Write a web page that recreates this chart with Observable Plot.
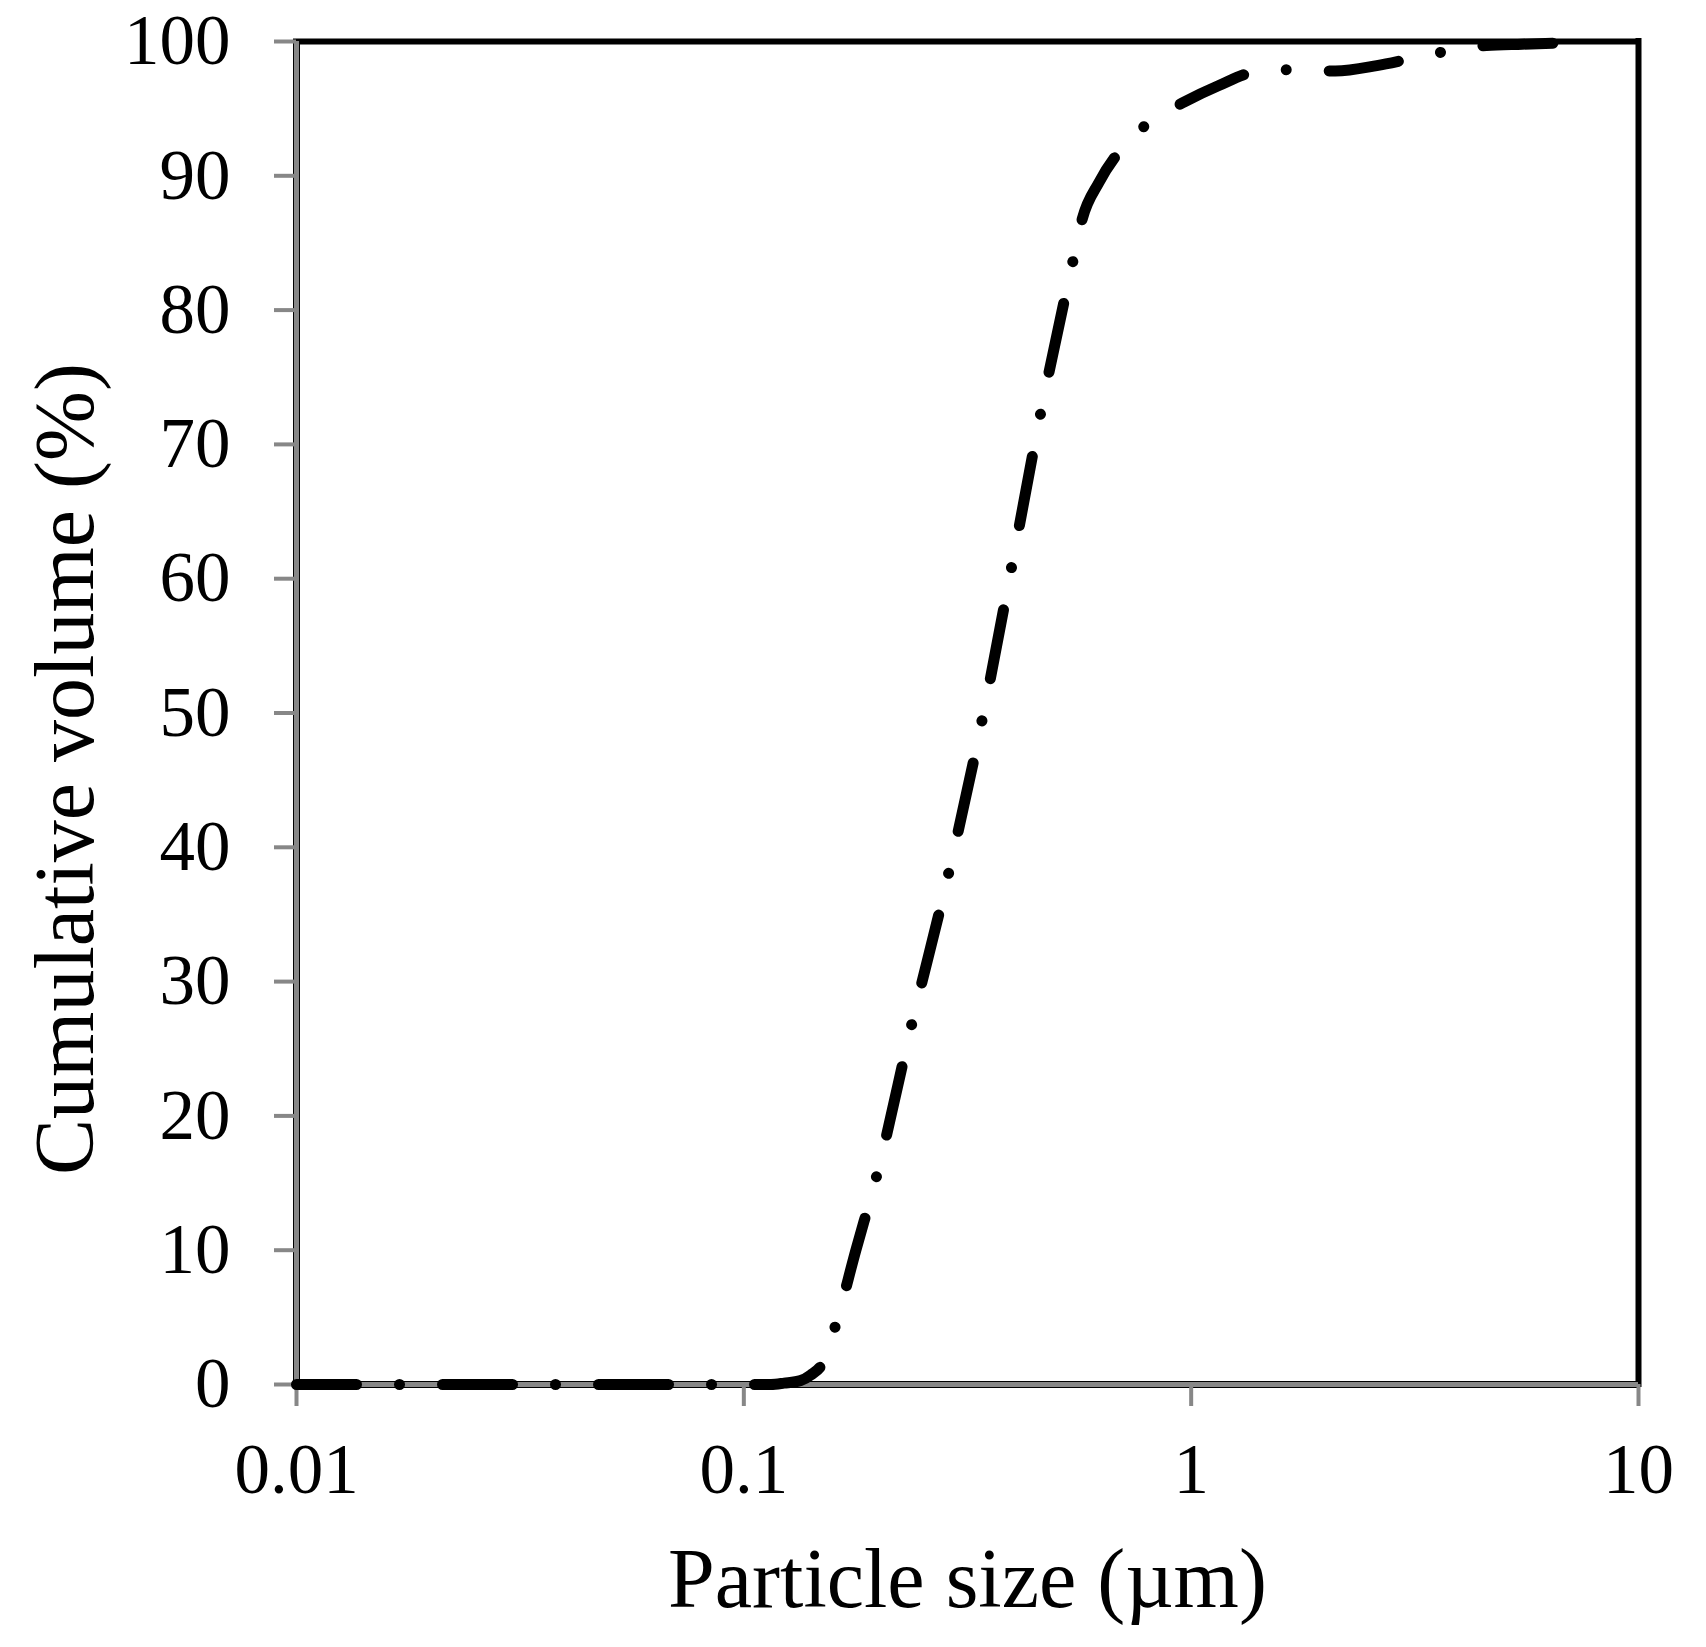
<!DOCTYPE html>
<html>
<head>
<meta charset="utf-8">
<script src="https://cdn.jsdelivr.net/npm/d3@7"></script>
<script src="https://cdn.jsdelivr.net/npm/@observablehq/plot@0.6"></script>
<style>
  html, body { margin: 0; padding: 0; background: #fff; }
</style>
</head>
<body>
<div id="chart"></div>
<script>
// Particle size distribution (cumulative volume)
const sizeUm = [0.01, 0.03, 0.06, 0.1, 0.115, 0.123, 0.134, 0.141, 0.150, 0.160, 0.178, 0.198, 0.238, 0.288, 0.342, 0.398, 0.462, 0.547, 0.571, 0.622, 0.698, 0.807, 0.966, 1.15, 1.379, 1.70, 2.10, 2.6, 3.08, 3.76, 4.57, 5.5, 6.9];
const cumVol = [0, 0, 0, 0, 0, 0.1, 0.3, 0.7, 1.6, 4.3, 10, 15.5, 27, 38.3, 49.7, 61.1, 72.5, 84, 86.8, 89.5, 92.0, 94.0, 95.5, 96.7, 97.7, 97.9, 97.8, 98.2, 98.7, 99.3, 99.7, 99.8, 99.9];

const xTicks = [0.01, 0.1, 1, 10];
const xTickLabels = ["0.01", "0.1", "1", "10"];
const yTicks = [0, 10, 20, 30, 40, 50, 60, 70, 80, 90, 100];
const yTickLabels = ["0", "10", "20", "30", "40", "50", "60", "70", "80", "90", "100"];
const xLabel = "Particle size (µm)";
const yLabel = "Cumulative volume (%)";

const data = sizeUm.map((d, i) => ({size: d, vol: cumVol[i]}));
const font = "'Times New Roman', 'Liberation Serif', serif";
const axisGray = "#878787";

const chart = Plot.plot({
  width: 1706,
  height: 1647,
  marginLeft: 296,
  marginRight: 68,
  marginTop: 41,
  marginBottom: 263,
  style: {fontFamily: font, background: "#fff", color: "#000", overflow: "visible"},
  x: {type: "log", domain: [0.01, 10]},
  y: {domain: [0, 100]},
  marks: [
    Plot.ruleY([100], {stroke: "#000", strokeWidth: 6, strokeLinecap: "square"}),
    Plot.ruleX([10], {stroke: "#000", strokeWidth: 6, strokeLinecap: "square"}),
    Plot.ruleX([0.01], {stroke: "#000", strokeWidth: 7}),
    Plot.ruleY([0], {stroke: "#000", strokeWidth: 7}),
    Plot.ruleX([0.01], {stroke: axisGray, strokeWidth: 5}),
    Plot.ruleY([0], {stroke: axisGray, strokeWidth: 5}),
    Plot.axisY({
      ticks: yTicks, tickSize: 22, tickPadding: 44, stroke: axisGray, strokeWidth: 4,
      fill: "#000", fontSize: 71, label: null,
      tickFormat: d => yTickLabels[yTicks.indexOf(d)]
    }),
    Plot.axisX({
      ticks: xTicks, tickSize: 22, tickPadding: 36, stroke: axisGray, strokeWidth: 4,
      fill: "#000", fontSize: 71, label: null,
      tickFormat: d => xTickLabels[xTicks.indexOf(d)]
    }),
    Plot.line(data, {
      x: "size", y: "vol", stroke: "#000", strokeWidth: 11,
      strokeLinecap: "round", strokeLinejoin: "round",
      strokeDasharray: "70 43 0.01 43", strokeDashoffset: 10, curve: "monotone-x"
    }),
    Plot.text([yLabel], {
      frameAnchor: "left", rotate: -90, dx: -204, dy: 56,
      textAnchor: "middle", lineAnchor: "bottom", fontSize: 84, fill: "#000"
    }),
    Plot.text([xLabel], {
      frameAnchor: "bottom", dy: 222,
      textAnchor: "middle", lineAnchor: "bottom", fontSize: 84, fill: "#000"
    })
  ]
});
document.getElementById("chart").appendChild(chart);
</script>
</body>
</html>
